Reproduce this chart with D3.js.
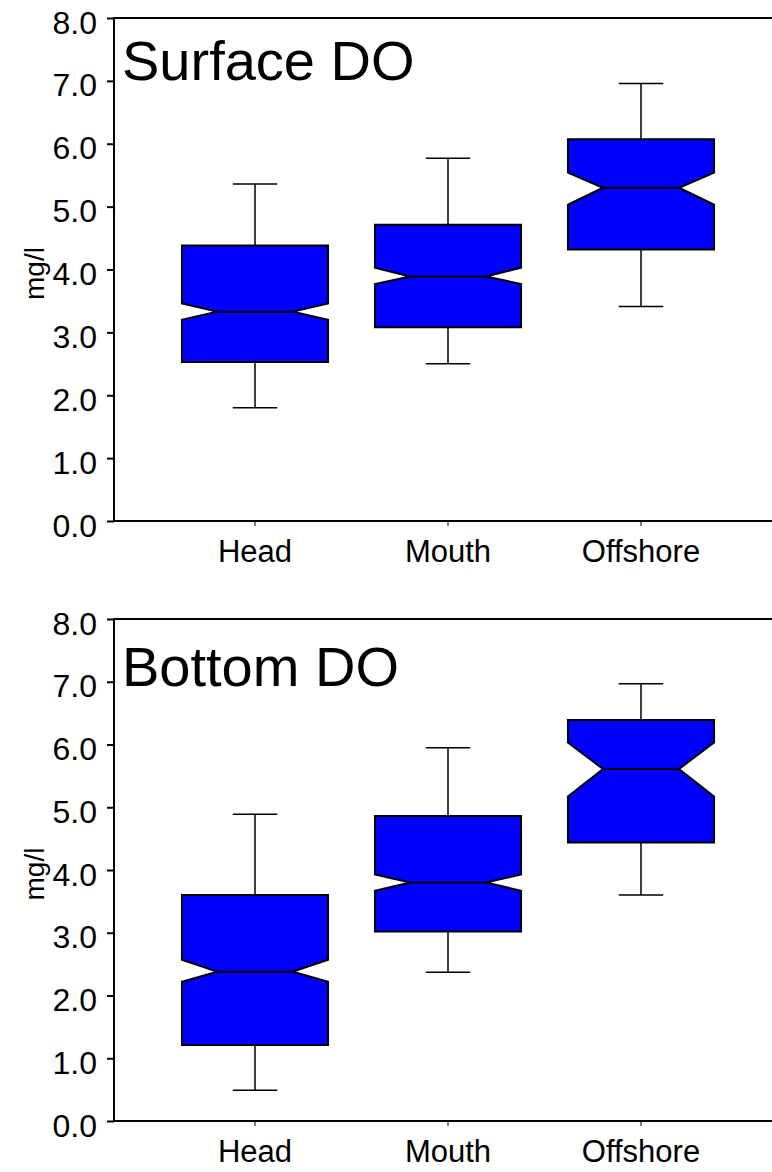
<!DOCTYPE html>
<html>
<head>
<meta charset="utf-8">
<script src="https://cdn.jsdelivr.net/npm/d3@7"></script>
<style>
  html, body { margin: 0; padding: 0; background: #fff; }
  svg { display: block; }
  text { font-family: "Liberation Sans", Arial, sans-serif; fill: #000; }
</style>
</head>
<body>
<script>
const categories = ["Head", "Mouth", "Offshore"];
const yTickValues = [0, 1, 2, 3, 4, 5, 6, 7, 8];

const surfaceTitle = "Surface DO";
const surfaceWhiskerLow  = [1.80, 2.50, 3.41];
const surfaceQ1          = [2.53, 3.08, 4.32];
const surfaceNotchLow    = [3.20, 3.77, 5.03];
const surfaceMedian      = [3.33, 3.89, 5.30];
const surfaceNotchHigh   = [3.46, 4.03, 5.54];
const surfaceQ3          = [4.38, 4.71, 6.07];
const surfaceWhiskerHigh = [5.36, 5.77, 6.96];

const bottomTitle = "Bottom DO";
const bottomWhiskerLow  = [0.49, 2.37, 3.60];
const bottomQ1          = [1.21, 3.02, 4.44];
const bottomNotchLow    = [2.22, 3.67, 5.17];
const bottomMedian      = [2.38, 3.80, 5.61];
const bottomNotchHigh   = [2.57, 3.93, 6.03];
const bottomQ3          = [3.60, 4.86, 6.39];
const bottomWhiskerHigh = [4.89, 5.95, 6.97];

const yLabel = "mg/l";

const W = 772, H = 1172;
const svg = d3.select("body").append("svg").attr("width", W).attr("height", H);

const axisLeftX = 114, axisRightX = 772;
const x = d3.scaleBand().domain(categories).range([158.5, 737.5]).padding(0);

function makeRows(wl, q1, nl, md, nh, q3, wh) {
  return categories.map((c, i) => ({
    cat: c, wl: wl[i], q1: q1[i], nl: nl[i], md: md[i], nh: nh[i], q3: q3[i], wh: wh[i]
  }));
}

function panel(title, rows, top, bottom, titleBaseline) {
  const y = d3.scaleLinear().domain([0, 8]).range([bottom, top]);
  const g = svg.append("g");

  // Y axis
  const ya = g.append("g").attr("transform", `translate(${axisLeftX},0)`)
    .call(d3.axisLeft(y).tickValues(yTickValues).tickFormat(d3.format(".1f")).tickSize(7).tickPadding(10));
  ya.select(".domain").remove();
  ya.selectAll(".tick line").attr("stroke", "#000").attr("stroke-width", 2);
  ya.selectAll(".tick text").attr("font-size", 32).attr("dy", "0.47em")
    .style("font-family", "'Liberation Sans', Arial, sans-serif");

  // X axis
  const xa = g.append("g").attr("transform", `translate(0,${bottom})`)
    .call(d3.axisBottom(x).tickSize(5).tickPadding(14));
  xa.select(".domain").remove();
  xa.selectAll(".tick line").attr("stroke", "#000").attr("stroke-width", 1);
  xa.selectAll(".tick text").attr("font-size", 31)
    .style("font-family", "'Liberation Sans', Arial, sans-serif");

  // Frame lines
  g.append("line").attr("x1", axisLeftX).attr("x2", axisRightX).attr("y1", y(8)).attr("y2", y(8))
    .attr("stroke", "#000").attr("stroke-width", 2);
  g.append("line").attr("x1", axisLeftX).attr("x2", axisRightX).attr("y1", y(0)).attr("y2", y(0))
    .attr("stroke", "#000").attr("stroke-width", 2);
  g.append("line").attr("x1", axisLeftX).attr("x2", axisLeftX).attr("y1", y(8) - 1).attr("y2", y(0) + 1)
    .attr("stroke", "#000").attr("stroke-width", 2);

  // Y label
  g.append("text")
    .attr("transform", `translate(44,${(y(0) + y(8)) / 2 + 4}) rotate(-90)`)
    .attr("text-anchor", "middle")
    .attr("font-size", 28)
    .text(yLabel);

  // Title
  g.append("text").attr("x", 122).attr("y", titleBaseline).attr("font-size", 56).text(title);

  const bw = x.bandwidth() * 0.757;
  const notchHalf = bw * 0.26;
  const capHalf = bw * 0.152;

  const boxes = g.selectAll("g.box").data(rows).join("g").attr("class", "box");

  boxes.each(function (d) {
    const s = d3.select(this);
    const cx = x(d.cat) + x.bandwidth() / 2;
    const L = cx - bw / 2, R = cx + bw / 2;
    // whiskers
    s.append("line").attr("x1", cx).attr("x2", cx).attr("y1", y(d.q3)).attr("y2", y(d.wh))
      .attr("stroke", "#000").attr("stroke-width", 1.5);
    s.append("line").attr("x1", cx - capHalf).attr("x2", cx + capHalf).attr("y1", y(d.wh)).attr("y2", y(d.wh))
      .attr("stroke", "#000").attr("stroke-width", 1.5);
    s.append("line").attr("x1", cx).attr("x2", cx).attr("y1", y(d.q1)).attr("y2", y(d.wl))
      .attr("stroke", "#000").attr("stroke-width", 1.5);
    s.append("line").attr("x1", cx - capHalf).attr("x2", cx + capHalf).attr("y1", y(d.wl)).attr("y2", y(d.wl))
      .attr("stroke", "#000").attr("stroke-width", 1.5);
    // notched box
    const pts = [
      [L, y(d.q3)], [R, y(d.q3)], [R, y(d.nh)], [cx + notchHalf, y(d.md)], [R, y(d.nl)],
      [R, y(d.q1)], [L, y(d.q1)], [L, y(d.nl)], [cx - notchHalf, y(d.md)], [L, y(d.nh)]
    ];
    s.append("path").attr("d", d3.line()(pts) + "Z")
      .attr("fill", "#0000ff").attr("stroke", "#000").attr("stroke-width", 2).attr("stroke-linejoin", "miter");
    s.append("line").attr("x1", cx - notchHalf).attr("x2", cx + notchHalf).attr("y1", y(d.md)).attr("y2", y(d.md))
      .attr("stroke", "#000").attr("stroke-width", 2);
  });
}

panel(surfaceTitle,
  makeRows(surfaceWhiskerLow, surfaceQ1, surfaceNotchLow, surfaceMedian, surfaceNotchHigh, surfaceQ3, surfaceWhiskerHigh),
  18, 521, 80);
panel(bottomTitle,
  makeRows(bottomWhiskerLow, bottomQ1, bottomNotchLow, bottomMedian, bottomNotchHigh, bottomQ3, bottomWhiskerHigh),
  619, 1121, 686);
</script>
</body>
</html>
